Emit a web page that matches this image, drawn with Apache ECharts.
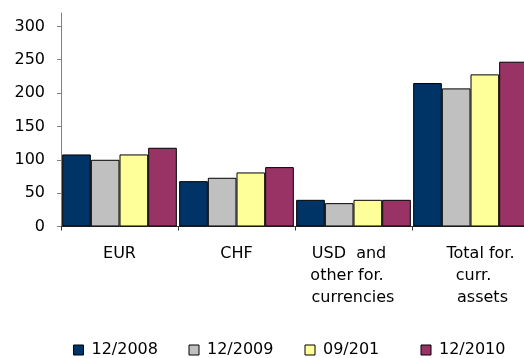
<!DOCTYPE html>
<html>
<head>
<meta charset="utf-8">
<script src="https://cdn.jsdelivr.net/npm/echarts@6/dist/echarts.min.js"></script>
<style>
  html, body { margin: 0; padding: 0; background: #fff; }
  #chart { width: 524px; height: 358px; }
</style>
</head>
<body>
<div id="chart"></div>
<script>
// Foreign currency assets by currency, four reporting dates
const categories = ['EUR', 'CHF', 'USD  and\nother for.\ncurrencies', 'Total for.\ncurr.\nassets'];
const seriesNames = ['12/2008', '12/2009', '09/201', '12/2010'];
const values2008 = [108, 68, 40, 215];
const values2009 = [100, 73, 35, 207];
const values2010Sep = [108, 81, 40, 228];
const values2010Dec = [118, 89, 40, 247];
const yTicks = [0, 50, 100, 150, 200, 250, 300];

const colors = ['#003366', '#C0C0C0', '#FFFF99', '#993366'];
const seriesValues = [values2008, values2009, values2010Sep, values2010Dec];
const FONT = '"DejaVu Sans", Verdana, sans-serif';

// Horizontal nudges (padding left/right) for each wrapped label line
const lineNudge = {
  2: [[0, 9], [0, 13], [0, 1]],
  3: [[20, 0], [6, 0], [24, 0]]
};
const richStyles = {};
Object.keys(lineNudge).forEach(k => {
  lineNudge[k].forEach((p, j) => {
    richStyles['c' + k + '_' + j] = {
      fontFamily: FONT, fontSize: 16, color: '#000', lineHeight: 22,
      padding: [0, p[1], 0, p[0]]
    };
  });
});

// One legend block per series so the entries sit on an even spacing
const legendLefts = [73, 188.5, 304.5, 420.5];
const legends = seriesNames.map((n, i) => ({
  left: legendLefts[i],
  top: 342,
  padding: 0,
  itemWidth: 10,
  itemHeight: 10,
  itemGap: 0,
  icon: 'rect',
  textStyle: { fontFamily: FONT, fontSize: 16, color: '#000', padding: [0, 0, 0, 3] },
  data: [{ name: n, itemStyle: { color: colors[i], borderColor: '#000', borderWidth: 1 } }]
}));

const chart = echarts.init(document.getElementById('chart'), null, { renderer: 'canvas' });

chart.setOption({
  animation: false,
  backgroundColor: '#ffffff',
  textStyle: { fontFamily: FONT },
  grid: { left: 61, top: 13, width: 468, height: 213.5, containLabel: false, outerBoundsMode: 'none' },
  legend: legends,
  xAxis: {
    type: 'category',
    data: categories,
    axisLine: { lineStyle: { color: '#333', width: 1 } },
    axisTick: { show: true, length: 4, lineStyle: { color: '#333' } },
    axisLabel: {
      fontFamily: FONT,
      fontSize: 16,
      color: '#000',
      lineHeight: 22,
      margin: 16,
      interval: 0,
      rich: richStyles,
      formatter: (value, index) => {
        if (!lineNudge[index]) return value;
        return value.split('\n').map((line, j) => '{c' + index + '_' + j + '|' + line + '}').join('\n');
      }
    }
  },
  yAxis: {
    type: 'value',
    min: 0,
    max: 320,
    interval: 50,
    splitLine: { show: false },
    axisLine: { show: true, lineStyle: { color: '#808080', width: 1 } },
    axisTick: { show: true, length: 4, lineStyle: { color: '#808080' }, customValues: yTicks },
    axisLabel: {
      fontFamily: FONT,
      fontSize: 16,
      color: '#000',
      margin: 16,
      customValues: yTicks
    }
  },
  series: seriesValues.map((vals, i) => ({
    name: seriesNames[i],
    type: 'bar',
    data: vals,
    barGap: '0%',
    barCategoryGap: '2%',
    itemStyle: { color: colors[i], borderColor: '#000', borderWidth: 1 }
  }))
});
</script>
</body>
</html>
